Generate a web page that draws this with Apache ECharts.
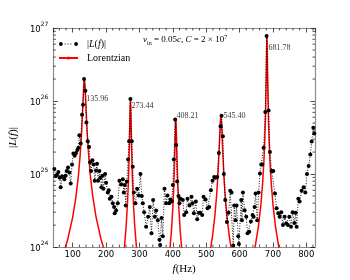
<!DOCTYPE html>
<html><head><meta charset="utf-8">
<script src="https://cdn.jsdelivr.net/npm/echarts@6/dist/echarts.min.js"></script>
<style>html,body{margin:0;padding:0;background:#fff}#c{width:350px;height:280px}</style>
</head><body><div id="c"></div>
<script>
// ---- measured spectrum |L(f)| ----
const freq = [45,49,53,57,61,64,68,72,75,79,82,86,90,94,98,102,106,110,114,117,120,124,128,131,134,138,141,145,149,152,155,159,163,166,170,173,176,180,183,186,189,192,197,200,205,208,211,216,220,224,226,230,235,240,245,250,253,256,259,262,266,269,273,277,280,283,288,293,298,303,307,310,314,320,326,331,336,341,346,350,355,360,362,366,370,375,380,384,389,393,397,400,403,407,410,413,417,420,423,430,434,440,444,450,456,459,463,469,473,478,482,488,492,498,504,509,514,519,524,528,533,538,543,546,550,553,557,562,567,572,576,581,584,588,591,596,598,605,607,610,615,620,624,629,634,639,642,645,648,653,657,661,665,668,672,677,681,687,691,696,701,706,711,716,720,725,730,735,740,745,749,754,759,764,768,771,776,780,786,792,797,802,807,812,816,821,824];
const amp = [1.17e25,9.3e24,9.8e24,1.07e25,8.9e24,6.6e24,9.3e24,9.1e24,8.5e24,9.5e24,1.10e25,1.23e25,1.05e25,7.4e24,1.35e25,1.91e25,1.78e25,1.95e25,2.14e25,2.29e25,3.4e25,2.63e25,6.5e25,8.9e25,2.0e26,1.38e26,5.1e25,2.82e25,2.34e25,1.45e25,1.10e25,1.55e25,1.35e25,8.1e24,1.12e25,1.38e25,8.1e24,1.10e25,8.9e24,6.6e24,9.5e24,6.3e24,1.0e25,7.6e24,5.6e24,6.0e24,4.6e24,4.9e24,4.0e24,3.55e24,2.9e24,3.16e24,4.0e24,8.1e24,7.2e24,8.5e24,5.6e24,7.1e24,3.7e24,7.9e24,1.58e25,2.82e25,1.07e26,2.82e25,1.26e25,5.6e24,4.0e24,6.3e24,5.1e24,1.0e25,5.0e24,4.0e24,3.0e24,1.9e24,2.6e24,3.55e24,1.55e24,4.4e24,2.6e24,3.16e24,2.34e24,1.26e24,1.07e24,2.5e24,1.41e24,6.3e24,4.0e24,5.1e24,4.0e24,4.5e24,4.2e24,7.1e24,1.58e25,5.6e25,2.5e25,7.9e24,5.0e24,4.0e24,4.6e24,4.4e24,2.75e24,3.0e24,4.6e24,3.7e24,4.9e24,4.0e24,2.9e24,4.2e24,2.4e24,2.95e24,2.95e24,2.75e24,4.9e24,4.5e24,3.4e24,3.55e24,6.0e24,8.1e24,9.1e24,8.9e24,9.1e24,1.95e25,4.5e25,6.3e25,3.3e25,1.0e25,4.4e24,2.2e24,2.95e24,5.9e24,5.6e24,1.05e24,3.7e24,2.34e24,3.7e24,1.41e24,1.10e24,4.4e24,2.34e24,5.6e24,3.2e24,2.6e24,1.55e24,1.62e24,2.24e24,2.75e24,2.6e24,3.55e24,5.4e24,2.34e24,5.6e24,1.02e25,1.35e25,1.35e25,2.3e25,7.1e25,7.8e26,7.4e25,2.0e25,1.10e25,1.10e25,5.4e24,3.4e24,2.9e24,2.6e24,3.0e24,2.0e24,2.6e24,2.1e24,2.0e24,2.6e24,1.9e24,3.0e24,2.14e24,2.95e24,1.9e24,4.6e24,4.2e24,5.9e24,6.6e24,5.6e24,1.0e25,1.29e25,1.86e25,2.8e25,4.3e25,3.6e25];

// ---- Lorentzian fits ----
const lor1F = [70,85,100,110,117,122,126,129,131,133,135,137,139,141,144,148,153,160,170,185,200];
const lor1V = [7.5e23,1.27e24,2.58e24,5.0e24,9.4e24,1.73e25,3.3e25,6.15e25,1.0e26,1.6e26,2.0e26,1.6e26,1.0e26,6.15e25,3.3e25,1.73e25,9.4e24,5.0e24,2.58e24,1.27e24,7.5e23];
const lor2F = [238,248,255,260,264,266.5,268.5,270,271,272,273,274,275,276,277.5,279.5,282,286,291,298,308];
const lor2V = [2.67e23,5.2e23,1.0e24,1.9e24,3.9e24,7.23e24,1.41e25,2.72e25,4.64e25,8.06e25,1.07e26,8.06e25,4.64e25,2.72e25,1.41e25,7.23e24,3.9e24,1.9e24,1.0e24,5.2e23,2.67e23];
const lor3F = [374,384,391,396,400,402.5,404.5,406,407,408,409,410,411,412,413.5,415.5,418,422,427,434,444];
const lor3V = [2.4e23,4.7e23,9.0e23,1.7e24,3.43e24,6.23e24,1.16e25,2.07e25,3.19e25,4.71e25,5.6e25,4.71e25,3.19e25,2.07e25,1.16e25,6.23e24,3.43e24,1.7e24,9.0e23,4.7e23,2.4e23];
const lor4F = [494,509,519,526,531,535,538,540,542,544,546,548,550,553,557,562,569,579,594];
const lor4V = [3.6e23,7.3e23,1.42e24,2.69e24,4.96e24,9.5e24,1.80e25,2.99e25,4.93e25,6.3e25,4.93e25,2.99e25,1.80e25,9.5e24,4.96e24,2.69e24,1.42e24,7.3e23,3.6e23];
const lor5F = [637,647,657,664,669,673,675.5,677.5,679,680,681,682,683,684,685,686.5,688.5,691,695,700,707,717,727];
const lor5V = [6.2e23,1.03e24,2.0e24,3.87e24,7.4e24,1.52e25,2.87e25,5.76e25,1.19e26,2.24e26,4.81e26,7.8e26,4.81e26,2.24e26,1.19e26,5.76e25,2.87e25,1.52e25,7.4e24,3.87e24,2.0e24,1.03e24,6.2e23];

// ---- peak annotations ----
const peakLabels = ['135.96','273.44','408.21','545.40','681.78'];
const peakLabelF = [140.4,275.8,411,552,687];
const peakLabelV = [1.07e26,8.7e25,6.3e25,6.3e25,5.4e26];

// ---- axis ticks ----
const xMin = 42, xMax = 826, yMin = 1e24, yMax = 1e27;
const xMinorTicks = [60,80,120,140,160,180,220,240,260,280,320,340,360,380,420,440,460,480,520,540,560,580,620,640,660,680,720,740,760,780,820];
const yMinorTicks = [2e24,3e24,4e24,5e24,6e24,7e24,8e24,9e24,2e25,3e25,4e25,5e25,6e25,7e25,8e25,9e25,2e26,3e26,4e26,5e26,6e26,7e26,8e26,9e26];

const zip = (a, b) => a.map((v, i) => [v, b[i]]);
const SERIF = 'Liberation Serif';
const SANS = 'DejaVu Sans';
const tickCol = '#222';
const frameCol = '#8c8c8c';

const chart = echarts.init(document.getElementById('c'), null, {renderer: 'canvas'});

function xMinor(params, api) {
  const cs = params.coordSys;
  const px = api.coord([api.value(0), 1e25])[0];
  return {type: 'group', children: [
    {type: 'line', shape: {x1: px, y1: cs.y + cs.height, x2: px, y2: cs.y + cs.height - 2.5}, style: {stroke: tickCol, lineWidth: 0.8}},
    {type: 'line', shape: {x1: px, y1: cs.y, x2: px, y2: cs.y + 2.5}, style: {stroke: tickCol, lineWidth: 0.8}}
  ]};
}
function yMinor(params, api) {
  const cs = params.coordSys;
  const py = api.coord([xMin + 1, api.value(1)])[1];
  return {type: 'group', children: [
    {type: 'line', shape: {x1: cs.x, y1: py, x2: cs.x + 2.5, y2: py}, style: {stroke: tickCol, lineWidth: 0.8}},
    {type: 'line', shape: {x1: cs.x + cs.width, y1: py, x2: cs.x + cs.width - 2.5, y2: py}, style: {stroke: tickCol, lineWidth: 0.8}}
  ]};
}

const redSeries = [[lor1F, lor1V], [lor2F, lor2V], [lor3F, lor3V], [lor4F, lor4V], [lor5F, lor5V]].map(p => ({
  name: 'Lorentzian', type: 'line', data: zip(p[0], p[1]), symbol: 'none', clip: true,
  lineStyle: {color: '#ff0000', width: 1.5}, itemStyle: {color: '#ff0000'}, z: 3, silent: true, animation: false
}));

const xAxisBase = {
  type: 'value', min: xMin, max: xMax, splitNumber: 8,
  splitLine: {show: false},
  axisLine: {show: true, onZero: false, lineStyle: {color: frameCol, width: 1.2}},
  axisTick: {show: true, inside: true, length: 4.5, lineStyle: {color: tickCol, width: 0.8}}
};
const yAxisBase = {
  type: 'log', logBase: 10, min: yMin, max: yMax,
  splitLine: {show: false},
  axisLine: {show: true, onZero: false, lineStyle: {color: frameCol, width: 1.2}},
  axisTick: {show: true, inside: true, length: 4.5, lineStyle: {color: tickCol, width: 0.8}}
};

chart.setOption({
  animation: false,
  backgroundColor: '#fff',
  grid: {left: 43, top: 28, width: 272, height: 223, containLabel: false},
  title: {
    text: '{i|v}{sb|in}{n| = 0.05}{i|c}{n|, }{i|C}{n| = 2 × 10}{sp|7}',
    left: 138, top: 29,
    textStyle: {
      fontWeight: 'normal',
      rich: {
        i: {fontFamily: SERIF, fontStyle: 'italic', fontWeight: 'normal', fontSize: 9, color: '#000', lineHeight: 12, verticalAlign: 'middle'},
        n: {fontFamily: SERIF, fontWeight: 'normal', fontSize: 9, color: '#000', lineHeight: 12, verticalAlign: 'middle'},
        sb: {fontFamily: SERIF, fontWeight: 'normal', fontSize: 6, color: '#000', lineHeight: 6, verticalAlign: 'bottom'},
        sp: {fontFamily: SERIF, fontWeight: 'normal', fontSize: 6, color: '#000', lineHeight: 6, verticalAlign: 'top'}
      }
    }
  },
  legend: {
    orient: 'vertical', left: 53, top: 34, itemGap: 4, itemWidth: 19, itemHeight: 3.8,
    data: [
      {name: '|L(f)|', icon: 'path://M0,2A2,2 0 1,1 4,2A2,2 0 1,1 0,2Z M16,2A2,2 0 1,1 20,2A2,2 0 1,1 16,2Z M6,1.5H7V2.5H6Z M9,1.5H10V2.5H9Z M12,1.5H13V2.5H12Z'},
      {name: 'Lorentzian'}
    ],
    formatter: n => n === '|L(f)|' ? '{n||}{i|L}{n|(}{i|f}{n|)|}' : '{n|' + n + '}',
    textStyle: {
      padding: [0, 0, 0, 4],
      rich: {
        n: {fontFamily: SERIF, fontSize: 10, color: '#000'},
        i: {fontFamily: SERIF, fontStyle: 'italic', fontSize: 10, color: '#000'}
      }
    }
  },
  xAxis: [
    Object.assign({}, xAxisBase, {
      position: 'bottom',
      name: '{i|f}{n|(Hz)}', nameLocation: 'middle', nameGap: 16,
      nameTextStyle: {rich: {i: {fontFamily: SERIF, fontStyle: 'italic', fontSize: 11, color: '#000'}, n: {fontFamily: SERIF, fontSize: 11, color: '#000'}}},
      axisLabel: {show: true, showMinLabel: false, showMaxLabel: false, margin: 3, fontFamily: SANS, fontSize: 8.5, color: '#000'}
    }),
    Object.assign({}, xAxisBase, {position: 'top', axisLabel: {show: false}})
  ],
  yAxis: [
    Object.assign({}, yAxisBase, {
      position: 'left',
      name: '{n||}{i|L}{n|(}{i|f}{n|)|}', nameLocation: 'middle', nameGap: 30, nameRotate: 90,
      nameTextStyle: {rich: {i: {fontFamily: SERIF, fontStyle: 'italic', fontSize: 11, color: '#000'}, n: {fontFamily: SERIF, fontSize: 11, color: '#000'}}},
      axisLabel: {
        show: true, margin: 5,
        formatter: v => '{b|10}{s|' + Math.round(Math.log10(v)) + '}',
        rich: {
          b: {fontFamily: SANS, fontSize: 8.5, color: '#000', lineHeight: 13, verticalAlign: 'bottom'},
          s: {fontFamily: SANS, fontSize: 6, color: '#000', lineHeight: 6, verticalAlign: 'top'}
        }
      }
    }),
    Object.assign({}, yAxisBase, {position: 'right', axisLabel: {show: false}})
  ],
  series: [
    {
      name: '|L(f)|', type: 'line', data: zip(freq, amp), clip: true,
      symbol: 'circle', symbolSize: 4, showAllSymbol: true,
      itemStyle: {color: '#000'},
      lineStyle: {color: '#000', width: 0.9, type: [1, 1.6]},
      z: 4, silent: true
    },
    ...redSeries,
    {
      name: 'peaks', type: 'scatter', data: zip(peakLabelF, peakLabelV), symbolSize: 0, silent: true, z: 5,
      label: {
        show: true, position: 'right', distance: 0,
        formatter: p => peakLabels[p.dataIndex],
        fontFamily: SERIF, fontSize: 8, color: '#000'
      }
    },
    {name: 'xminor', type: 'custom', data: xMinorTicks.map(v => [v, 1e25]), renderItem: xMinor, silent: true, clip: false, z: 6},
    {name: 'yminor', type: 'custom', data: yMinorTicks.map(v => [xMin + 1, v]), renderItem: yMinor, silent: true, clip: false, z: 6}
  ]
});
</script>
</body></html>
